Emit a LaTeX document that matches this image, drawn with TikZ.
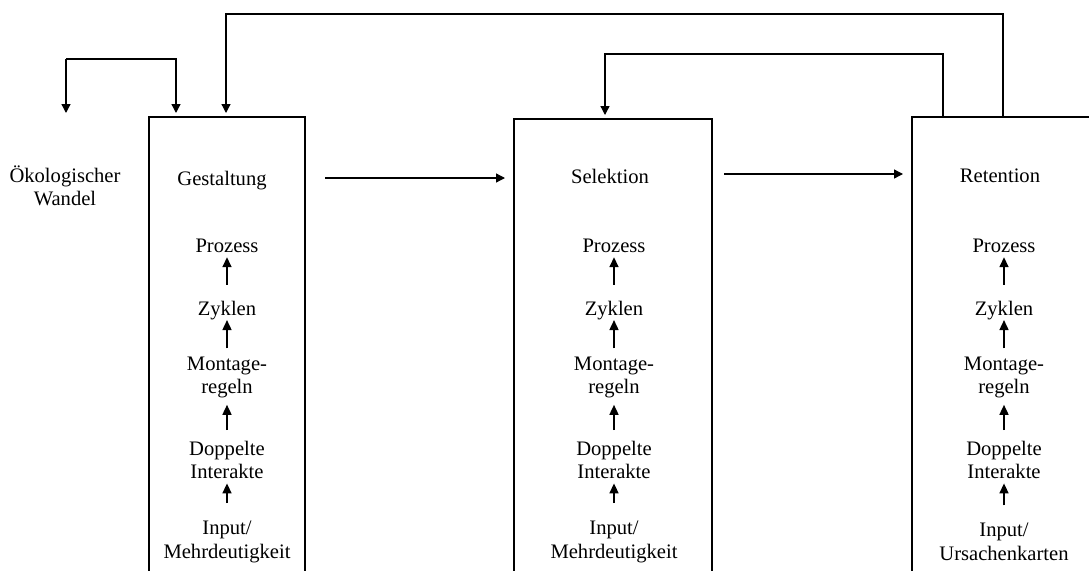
\documentclass[tikz,border=0pt]{standalone}
\usepackage{fontspec}
\setmainfont{Liberation Serif}
\usetikzlibrary{arrows.meta,calc}
\begin{document}
\begin{tikzpicture}[x=1pt,y=-1pt,
  lbl/.style={font=\fontsize{20.6}{23.5}\selectfont, align=center, inner sep=0pt, outer sep=0pt},
  arr/.style={line width=1.3pt,-{Triangle[length=9pt,width=9pt]}},
  up/.style={line width=1.6pt,-{Triangle[length=10pt,width=9pt]}},
  boxline/.style={line width=1.2pt},
  colbox/.style={minimum height=480pt, anchor=north west, inner sep=0pt, outer sep=0pt}]
\useasboundingbox (0,0) rectangle (1089,570);

% boxes (open at the bottom)
\node[colbox, minimum width=156pt] (b1) at (149,117) {};
\node[colbox, minimum width=198pt] (b2) at (514,119) {};
\node[colbox, minimum width=200pt] (b3) at (912,117) {};
\draw[boxline] (b1.south west) -- (b1.north west) -- (b1.north east) -- (b1.south east);
\draw[boxline] (b2.south west) -- (b2.north west) -- (b2.north east) -- (b2.south east);
\draw[boxline] (b3.south west) -- (b3.north west) -- (b3.north east);

% headings
\node[lbl] (oeko) at (65,186) {Ökologischer\\Wandel};
\node[lbl, anchor=base] (gest) at (222,185) {Gestaltung};
\node[lbl, anchor=base] (sel) at (610,183) {Selektion};
\node[lbl, anchor=base] (ret) at (1000,182) {Retention};

% columns
\foreach \c/\x/\last in {1/227/Mehrdeutigkeit, 2/614/Mehrdeutigkeit, 3/1004/Ursachenkarten}{
  \node[lbl, anchor=base] (p\c) at (\x,252) {Prozess};
  \node[lbl, anchor=base] (z\c) at (\x,315) {Zyklen};
  \node[lbl] (m\c) at (\x,377.5) {Montage-\\regeln};
  \node[lbl] (d\c) at (\x,460) {Doppelte\\Interakte};
  \node[lbl] (i\c) at (\x,542) {Input/\\\last};
  \draw[up, shorten <=16pt, shorten >=5pt] (z\c.north) -- (p\c.south);
  \draw[up, shorten <=8.5pt, shorten >=0.6pt] (m\c.north) -- (z\c.south);
  \draw[up, shorten <=10.9pt, shorten >=6.6pt] (d\c.north) -- (m\c.south);
  \draw[up, shorten <=18pt, shorten >=4.4pt] (i\c.north) -- (d\c.south);
}

% horizontal flow arrows
\coordinate (h1s) at (325,178);
\coordinate (h1e) at (505,178);
\coordinate (h2s) at (724,174);
\coordinate (h2e) at (903,174);
\draw[arr] (h1s) -- (h1e);
\draw[arr] (h2s) -- (h2e);

% small loop between ecological change and Gestaltung
\coordinate (oekotip) at (66,113);
\coordinate (g1tip) at (176,113);
\draw[arr] (oekotip) ++(0,-54) coordinate (lt) -- (oekotip);
\draw[arr] (lt) -- (lt -| g1tip) -- (g1tip);

% feedback loops from Retention
\coordinate (r1) at ($(b3.north west)+(91,0)$);
\coordinate (r2) at ($(b3.north west)+(31,0)$);
\coordinate (g2tip) at (226,113);
\coordinate (s2tip) at (605,115);
\draw[arr] (r1) -- (r1 |- 0,14) -- (g2tip |- 0,14) -- (g2tip);
\draw[arr] (r2) -- (r2 |- 0,54) -- (s2tip |- 0,54) -- (s2tip);
\end{tikzpicture}
\end{document}
